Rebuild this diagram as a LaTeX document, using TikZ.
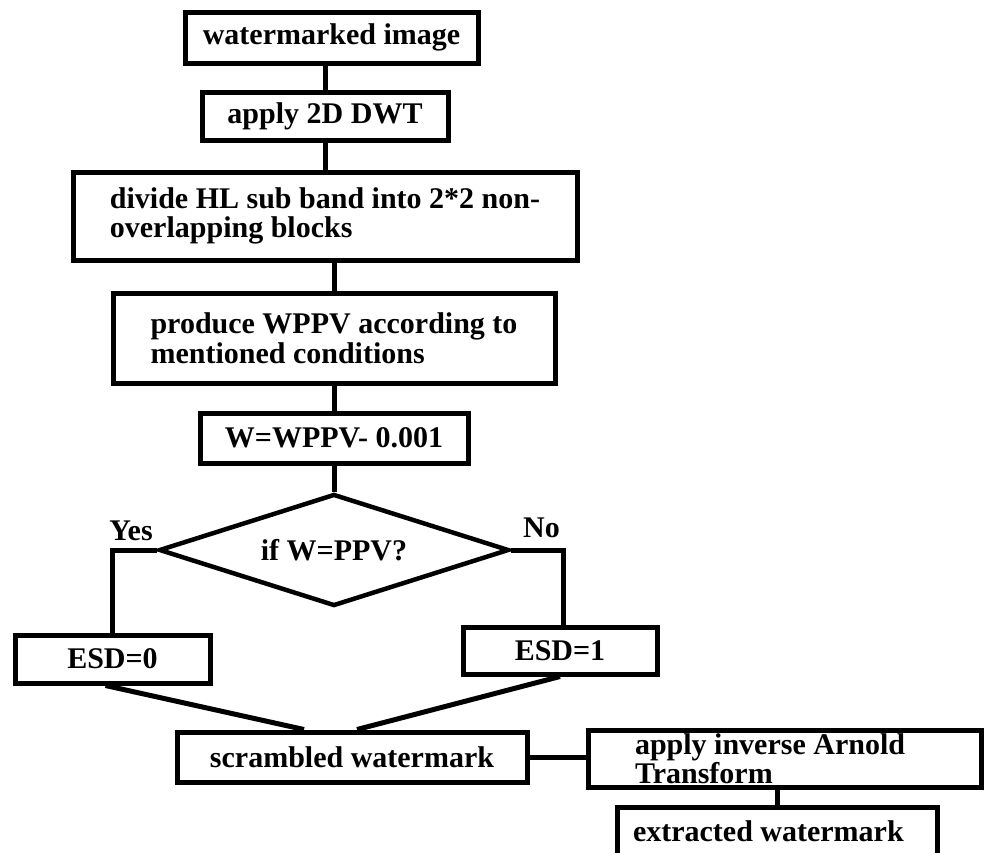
\documentclass[tikz,border=0pt]{standalone}
\usepackage{fontspec}
\setmainfont{Liberation Serif}
\usetikzlibrary{shapes.geometric,calc}
\begin{document}
\begin{tikzpicture}[x=1pt,y=-1pt,
  every node/.style={font=\fontsize{30}{29.5}\selectfont\bfseries},
  box/.style={draw,line width=5pt,inner sep=0pt,align=center},
  lbox/.style={draw,line width=5pt,inner ysep=0pt,align=flush left},
  dec/.style={draw,diamond,line width=4.5pt,inner sep=0pt,aspect=3.125,minimum width=350pt,minimum height=112pt},
  conn/.style={line width=5pt},
  lbl/.style={inner sep=0pt,anchor=base}]
\clip (0,0) rectangle (984,852);
\node[box,minimum width=293pt,minimum height=51pt] (b1) at (331.5,37.5) {watermarked image};
\node[box,minimum width=246pt,minimum height=48pt] (b2) at (325,116) {apply 2D DWT};
\node[box,align=left,minimum width=504pt,minimum height=88pt] (b3) at (325,216) {divide HL sub band into 2*2 non-\\overlapping blocks};
\node[box,align=left,minimum width=442pt,minimum height=90pt] (b4) at (334,338) {produce WPPV according to\\mentioned conditions};
\node[box,minimum width=268pt,minimum height=50pt] (b5) at (334,438) {W=WPPV- 0.001};
\node[dec] (d) at (334,550) {if W=PPV?};
\node[box,minimum width=195pt,minimum height=48pt] (e0) at (112.5,659) {ESD=0};
\node[box,minimum width=194pt,minimum height=47pt] (e1) at (560,650.5) {ESD=1};
\node[box,minimum width=350pt,minimum height=50pt] (sc) at (352,757) {scrambled watermark};
\node[lbox,inner xsep=47pt,text width=299pt,minimum height=57pt] (ar) at (784.5,758.5) {apply inverse Arnold\\Transform};
\node[lbox,inner xsep=16pt,text width=288pt,minimum height=49pt] (ex) at (777,831.5) {extracted watermark};
\node[lbl] (yes) at (131,540) {Yes};
\node[lbl] (no) at (541.5,537) {No};
\draw[conn] (b2.north) -- (b2.north |- b1.south);
\draw[conn] (b2.south) -- (b2.south |- b3.north);
\draw[conn] (b4.north) -- (b4.north |- b3.south);
\draw[conn] (b5.north) -- (b5.north |- b4.south);
\draw[conn] (b5.south) -- (d.north);
\draw[conn] (d.west) -| (e0.north);
\draw[conn] (d.east) -| ([xshift=3pt]e1.north);
\draw[conn] ([xshift=-7pt]e0.south) -- ([xshift=-48pt]sc.north);
\draw[conn] (e1.south) -- ([xshift=5pt]sc.north);
\draw[conn] (sc.east) -- (sc.east -| ar.west);
\draw[conn] (ex.north) -- (ex.north |- ar.south);
\end{tikzpicture}
\end{document}
